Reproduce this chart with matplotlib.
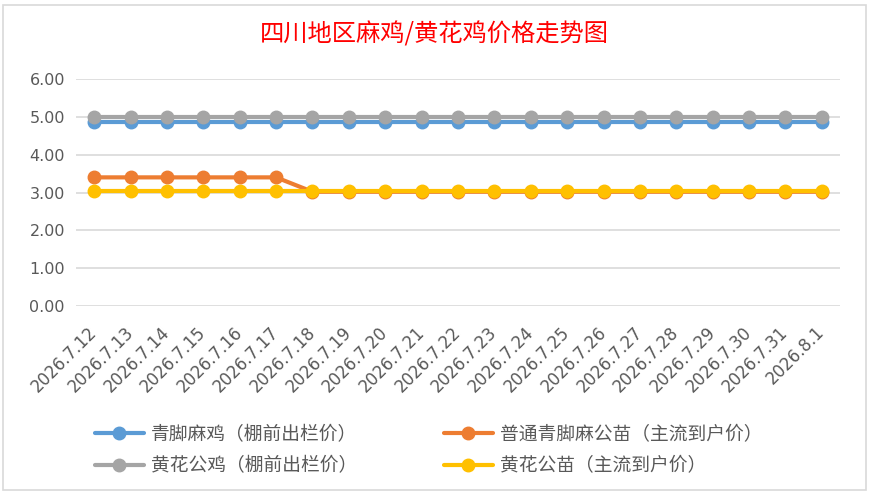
import matplotlib.pyplot as plt
from matplotlib.patches import Rectangle

plt.rcParams['font.family'] = ['DejaVu Sans', 'Noto Sans CJK SC']

dates = ['2026.7.12', '2026.7.13', '2026.7.14', '2026.7.15', '2026.7.16',
         '2026.7.17', '2026.7.18', '2026.7.19', '2026.7.20', '2026.7.21',
         '2026.7.22', '2026.7.23', '2026.7.24', '2026.7.25', '2026.7.26',
         '2026.7.27', '2026.7.28', '2026.7.29', '2026.7.30', '2026.7.31',
         '2026.8.1']
qingjiao_maji = [4.87] * 21
qingjiao_gongmiao = [3.40] * 6 + [3.02] * 15
huanghua_gongji = [5.00] * 21
huanghua_gongmiao = [3.05] * 21

names = ['青脚麻鸡（棚前出栏价）', '普通青脚麻公苗（主流到户价）',
         '黄花公鸡（棚前出栏价）', '黄花公苗（主流到户价）']
colors = ['#5B9BD5', '#ED7D31', '#A5A5A5', '#FFC000']
series = [qingjiao_maji, qingjiao_gongmiao, huanghua_gongji, huanghua_gongmiao]

fig = plt.figure(figsize=(8.69, 5.01), dpi=100)
fig.patches.append(Rectangle((3 / 869, 1 - 490 / 501), 863 / 869, 485 / 501,
                             transform=fig.transFigure, fill=False,
                             edgecolor='#D9D9D9', linewidth=1.2))
ax = fig.add_axes([76 / 869, 1 - 306 / 501, 764 / 869, 227 / 501])

x = list(range(len(dates)))
lines = []
for vals, name, c in zip(series, names, colors):
    ln, = ax.plot(x, vals, color=c, lw=3, marker='o', markersize=9,
                  label=name, solid_capstyle='round')
    lines.append(ln)

ax.set_xlim(-0.5, len(dates) - 0.5)
ax.set_ylim(0, 6)
ax.set_yticks([0, 1, 2, 3, 4, 5, 6])
ax.set_yticklabels([f'{v:.2f}' for v in range(7)], fontsize=11.5, color='#595959')
ax.set_xticks(x)
ax.set_xticklabels(dates, rotation=45, ha='right', va='center',
                   rotation_mode='anchor', fontsize=12, color='#595959')
ax.tick_params(axis='both', length=0, pad=8)
ax.tick_params(axis='x', pad=17)
ax.grid(axis='y', color='#D9D9D9', lw=1.2)
ax.set_axisbelow(True)
for s in ax.spines.values():
    s.set_visible(False)

fig.text(0.5, 1 - 34 / 501, '四川地区麻鸡/黄花鸡价格走势图', color='#FF0000',
         fontsize=17.5, ha='center', va='center', family='Noto Sans CJK SC')

order = [0, 2, 1, 3]
fig.legend([lines[i] for i in order], [names[i] for i in order], ncol=2,
           loc='center left', bbox_to_anchor=(95 / 869, 1 - 450 / 501),
           frameon=False, fontsize=13.5, labelcolor='#595959',
           handlelength=2.6, handletextpad=0.4, columnspacing=4.6,
           labelspacing=0.65, borderpad=0, borderaxespad=0)

fig.savefig('out.png', dpi=100)
